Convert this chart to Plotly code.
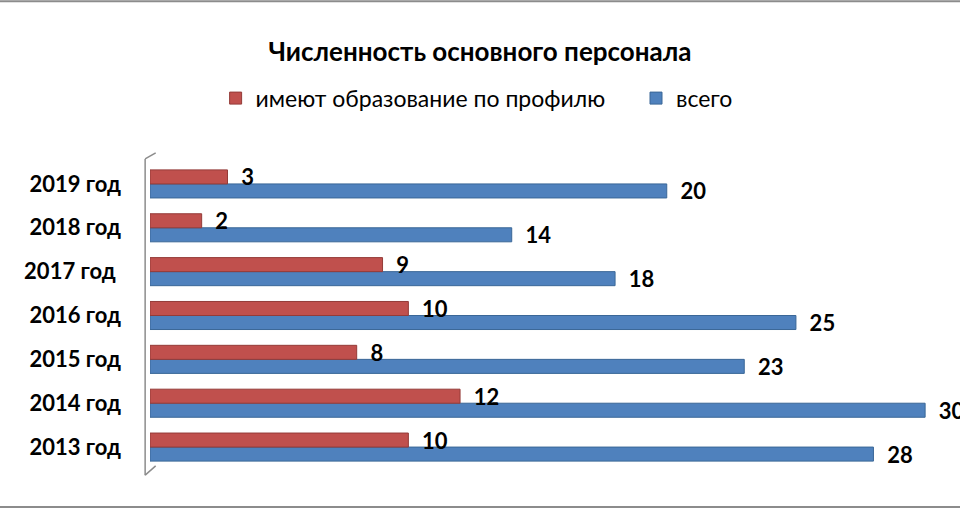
import plotly.graph_objects as go

years = ['2013 год', '2014 год', '2015 год', '2016 год', '2017 год ', '2018 год', '2019 год']
profile_edu = [10, 12, 8, 10, 9, 2, 3]
total = [28, 30, 23, 25, 18, 14, 20]

RED = '#C0504D'
BLUE = '#4F81BD'
FONT = 'Lato'
label_font = dict(family=FONT, size=22, color='black', weight='bold')
legend_font = dict(family=FONT, size=23, color='black')

fig = go.Figure()

# blue first so that it sits below the red bar inside each group
fig.add_trace(go.Bar(
    y=years, x=total, name='всего', orientation='h',
    marker=dict(color=BLUE, line=dict(color='#3A6797', width=1)),
    text=total, texttemplate='  %{x}', textposition='outside',
    cliponaxis=False, constraintext='none', textfont=label_font,
    legend='legend2',
))
fig.add_trace(go.Bar(
    y=years, x=profile_edu, name='имеют образование по профилю', orientation='h',
    marker=dict(color=RED, line=dict(color='#943B38', width=1)),
    text=profile_edu, texttemplate='  %{x}', textposition='outside',
    cliponaxis=False, constraintext='none', textfont=label_font,
    legend='legend',
))

fig.update_layout(
    width=960, height=510,
    margin=dict(l=150, r=0, t=162, b=41, autoexpand=False),
    paper_bgcolor='white', plot_bgcolor='white',
    barmode='group', bargap=0.36, bargroupgap=0,
    font=dict(family=FONT, color='black'),
    title=dict(
        text='<b>Численность основного персонала</b>',
        x=0.5, xanchor='center', y=0.898, yanchor='middle',
        font=dict(family=FONT, size=26, color='black'),
    ),
    legend=dict(
        orientation='h', x=0.081, xanchor='left', y=1.208, yanchor='middle',
        font=legend_font, itemwidth=30,
    ),
    legend2=dict(
        orientation='h', x=0.6, xanchor='left', y=1.208, yanchor='middle',
        font=legend_font, itemwidth=30,
    ),
    showlegend=True,
)

fig.update_xaxes(range=[0, 31.35], visible=False, automargin=False)
fig.update_yaxes(
    showgrid=False, showline=False, ticks='', automargin=False,
    tickfont=dict(family=FONT, size=22, color='black', weight='bold'),
    ticklabelstandoff=28,
)

# 3D-style back wall and the chart frame lines
wall = dict(color='#8C8C8C', width=1.5)
fig.add_shape(type='line', xref='paper', yref='paper',
              x0=-0.006, x1=-0.006, y0=-0.02, y1=1.01, line=wall)
fig.add_shape(type='line', xref='paper', yref='paper',
              x0=-0.006, x1=0.007, y0=1.01, y1=1.03, line=wall)
fig.add_shape(type='line', xref='paper', yref='paper',
              x0=-0.006, x1=0.007, y0=-0.02, y1=0.01, line=wall)
frame = dict(color='#8C8C8C', width=2)
fig.add_shape(type='line', xref='paper', yref='paper',
              x0=-0.19, x1=1.0, y0=1.524, y1=1.524, line=frame)
fig.add_shape(type='line', xref='paper', yref='paper',
              x0=-0.19, x1=1.0, y0=-0.124, y1=-0.124, line=frame)

# the page body has a default 8px margin; drop it so the figure fills the window
fig.write_html('out.html', config={'displayModeBar': False},
               post_script="document.body.style.margin='0';")
